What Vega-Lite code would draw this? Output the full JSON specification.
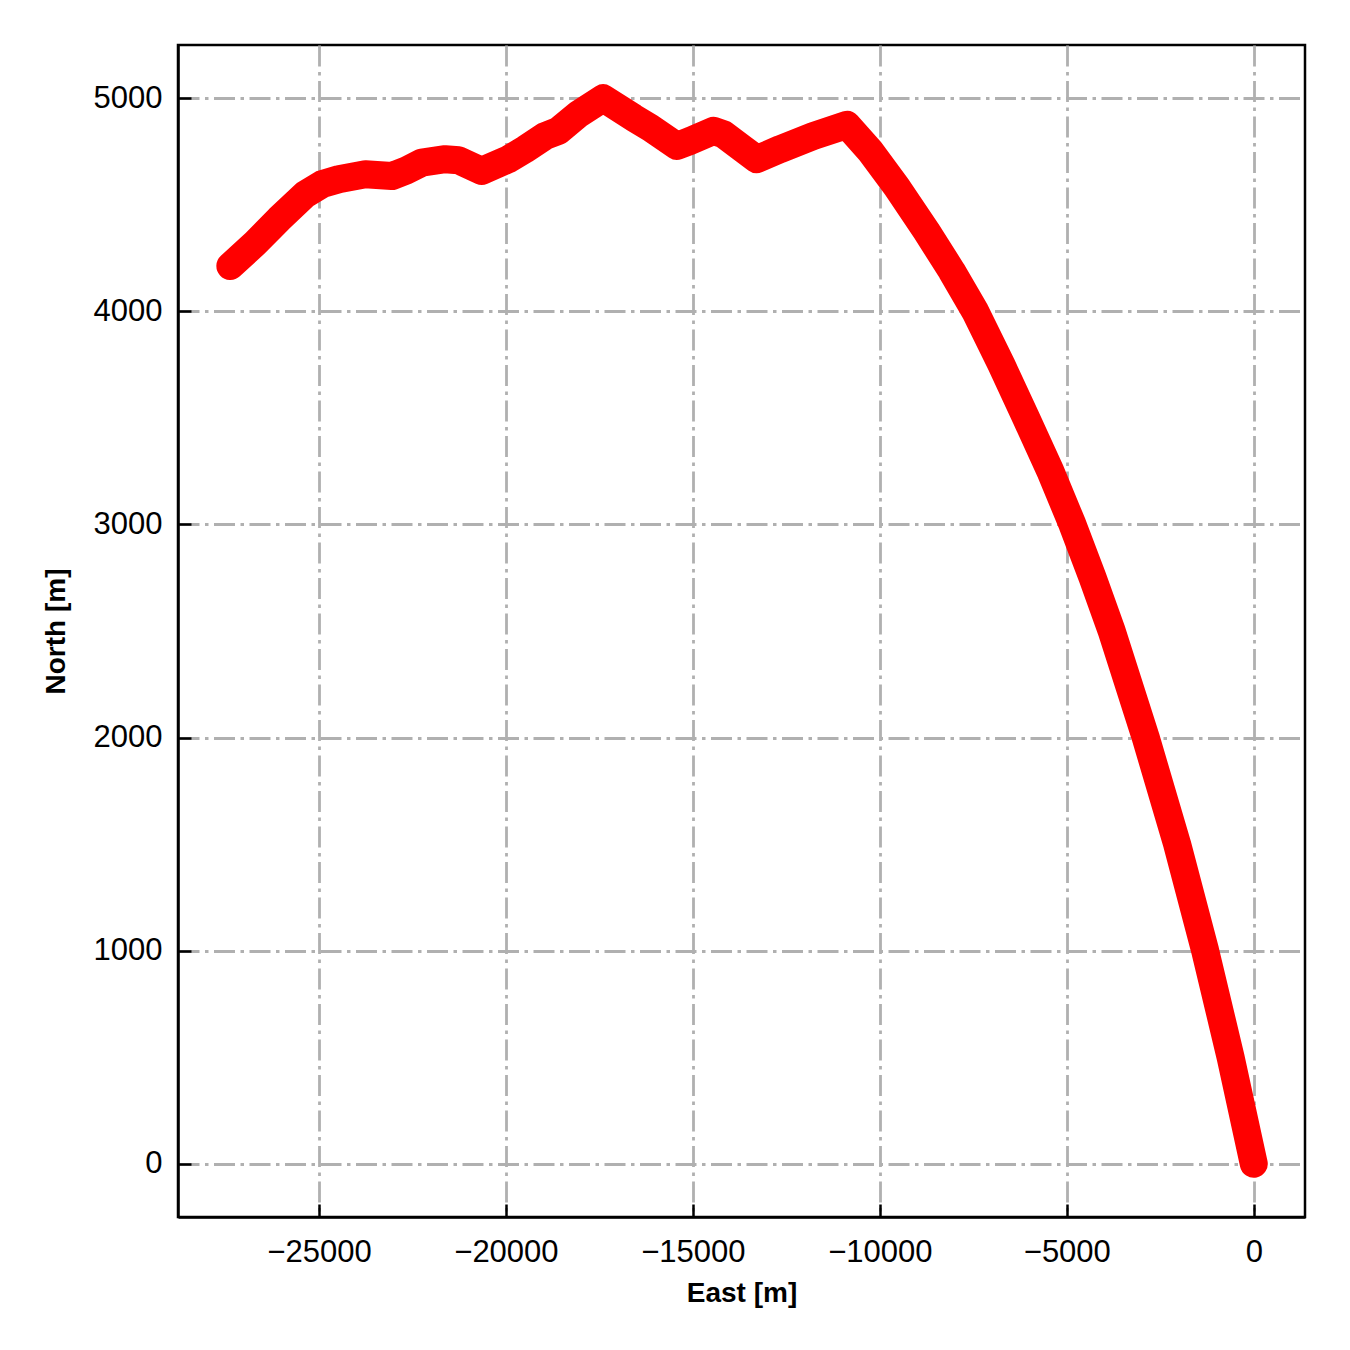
{
  "$schema": "https://vega.github.io/schema/vega-lite/v6.json",
  "width": 1127,
  "height": 1172,
  "autosize": {"type": "none"},
  "padding": {"left": 178, "top": 45, "right": 45, "bottom": 133},
  "background": "white",
  "config": {
    "view": {"stroke": "black", "strokeWidth": 2.5},
    "font": "Liberation Sans",
    "axis": {
      "domainColor": "black",
      "domainWidth": 2.5,
      "tickColor": "black",
      "tickWidth": 2.5,
      "tickSize": -13,
      "labelFont": "Liberation Sans",
      "labelFontSize": 31,
      "labelColor": "black",
      "titleFont": "Liberation Sans",
      "titleFontSize": 28,
      "titleFontWeight": "bold",
      "titleColor": "black",
      "grid": true,
      "gridColor": "#b0b0b0",
      "gridWidth": 2.8,
      "gridDash": [21, 5.5, 3.5, 5.5]
    }
  },
  "data": {
    "values": [
      {"east": -27370, "north": 4213},
      {"east": -26700, "north": 4321},
      {"east": -26076, "north": 4432},
      {"east": -25363, "north": 4550},
      {"east": -24920, "north": 4597},
      {"east": -24474, "north": 4620},
      {"east": -23760, "north": 4643},
      {"east": -23050, "north": 4635},
      {"east": -22692, "north": 4659},
      {"east": -22249, "north": 4698},
      {"east": -21624, "north": 4714},
      {"east": -21269, "north": 4709},
      {"east": -20646, "north": 4659},
      {"east": -19933, "north": 4714},
      {"east": -19487, "north": 4761},
      {"east": -18953, "north": 4823},
      {"east": -18598, "north": 4847},
      {"east": -18063, "north": 4925},
      {"east": -17400, "north": 5000},
      {"east": -16586, "north": 4909},
      {"east": -16140, "north": 4862},
      {"east": -15427, "north": 4776},
      {"east": -15071, "north": 4800},
      {"east": -14450, "north": 4847},
      {"east": -14182, "north": 4831},
      {"east": -13648, "north": 4761},
      {"east": -13291, "north": 4714},
      {"east": -12668, "north": 4761},
      {"east": -11778, "north": 4823},
      {"east": -10880, "north": 4875},
      {"east": -10256, "north": 4752},
      {"east": -9552, "north": 4585},
      {"east": -8751, "north": 4376},
      {"east": -8080, "north": 4190},
      {"east": -7450, "north": 4000},
      {"east": -6750, "north": 3750},
      {"east": -6090, "north": 3500},
      {"east": -5440, "north": 3250},
      {"east": -4850, "north": 3000},
      {"east": -4310, "north": 2750},
      {"east": -3800, "north": 2500},
      {"east": -2890, "north": 2000},
      {"east": -2050, "north": 1500},
      {"east": -1300, "north": 1000},
      {"east": -620, "north": 500},
      {"east": 0, "north": 0}
    ]
  },
  "mark": {
    "type": "line",
    "color": "#ff0000",
    "strokeWidth": 28,
    "strokeCap": "round",
    "strokeJoin": "round"
  },
  "encoding": {
    "x": {
      "field": "east",
      "type": "quantitative",
      "scale": {"domain": [-28770, 1370], "nice": false, "zero": false},
      "axis": {
        "title": "East [m]",
        "values": [-25000, -20000, -15000, -10000, -5000, 0],
        "format": "d",
        "labelPadding": 33,
        "titlePadding": 12
      }
    },
    "y": {
      "field": "north",
      "type": "quantitative",
      "scale": {"domain": [-250, 5250], "nice": false, "zero": false},
      "axis": {
        "title": "North [m]",
        "values": [0, 1000, 2000, 3000, 4000, 5000],
        "format": "d",
        "labelPadding": 29,
        "titlePadding": 23
      }
    }
  }
}
